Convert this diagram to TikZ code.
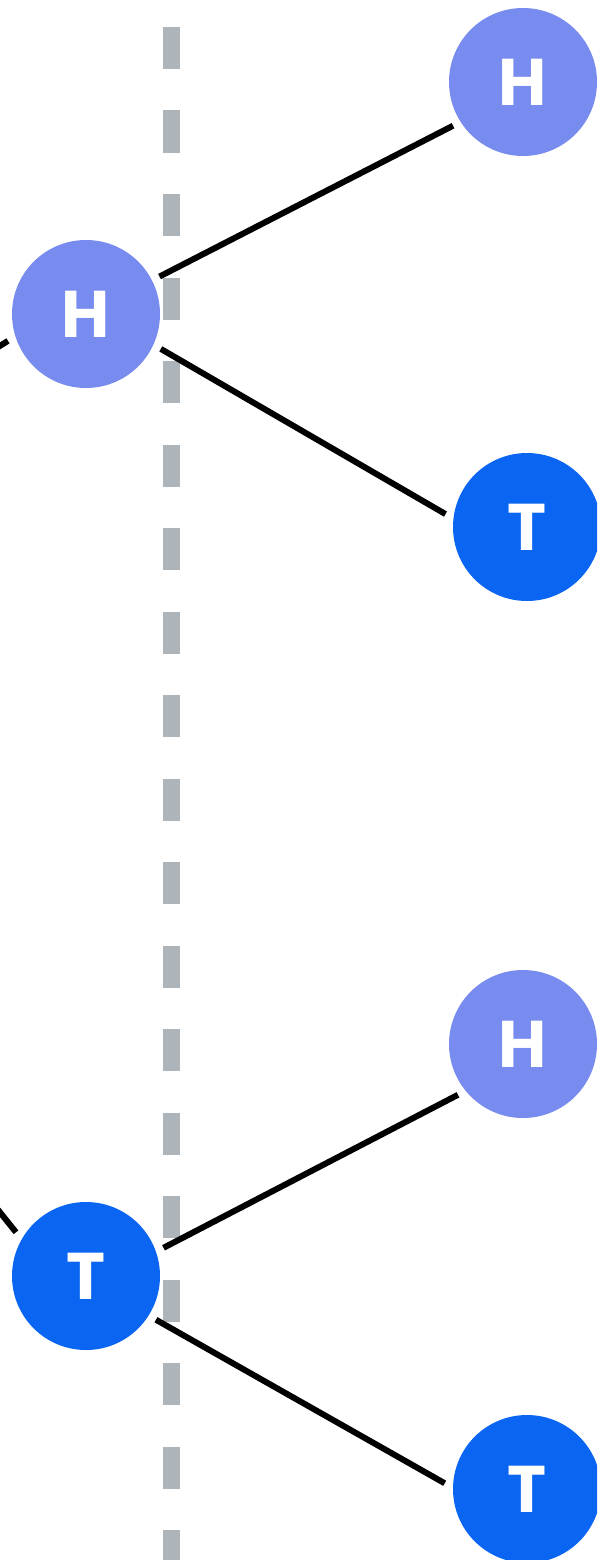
\documentclass[tikz,border=0pt]{standalone}
\usepackage{fontspec}
\newfontfamily\coinfont{Poppins}
\definecolor{headcol}{HTML}{788BEF}
\definecolor{tailcol}{HTML}{0A66F2}
\definecolor{cutcol}{HTML}{ADB4BA}
\tikzset{
  coin/.style={circle,minimum size=148pt,inner sep=0pt,outer sep=8.5pt,
    text=white,font=\coinfont\bfseries\fontsize{66}{66}\selectfont},
  headcoin/.style={coin,fill=headcol},
  tailcoin/.style={coin,fill=tailcol},
  branch/.style={line width=6pt,line cap=butt}
}
\begin{document}
\begin{tikzpicture}[x=1pt,y=-1pt]
     		\useasboundingbox (0,0) rectangle (597,1560);
     		\clip (0,0) rectangle (597,1560);
     		% cut line
     		\coordinate (cuttop) at (171.5,27);
     		\coordinate (cutbot) at (171.5,1600);
     		\draw[cutcol,line width=17pt,dash pattern=on 42pt off 41.5pt] (cuttop)--(cutbot);
     		% coins
     		\node[headcoin] (h) at (86,314) {H};
     		\node[tailcoin] (t) at (86,1276) {T};
     		\node[headcoin] (hh) at (523,82) {H};
     		\node[tailcoin] (ht) at (527,527) {T};
     		\node[headcoin] (th) at (523,1044) {H};
     		\node[tailcoin] (tt) at (527,1489) {T};
     		% branches from the left
     		\coordinate (hin) at (-40,371);
     		\coordinate (tin) at (-30,1175);
     		\draw[branch] (hin)--(h.199);
     		\draw[branch] (tin)--(t.148);
     		% branches to the right
     		\draw[branch] (h.27)--(hh.212);
     		\draw[branch] (h.-25)--(ht.171);
     		\draw[branch] (t.20)--(th.218);
     		\draw[branch] (t.-32)--(tt.176);
\end{tikzpicture}
\end{document}
